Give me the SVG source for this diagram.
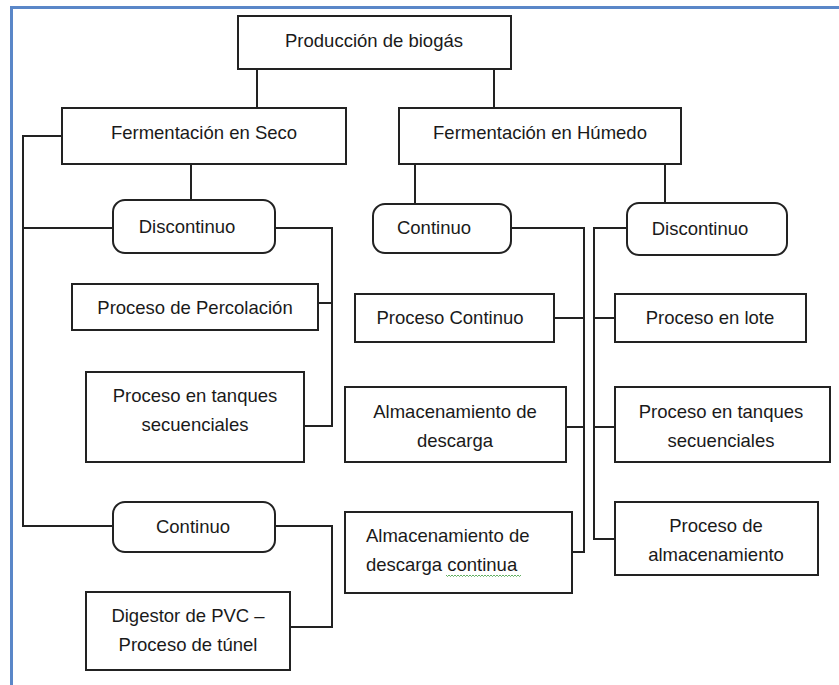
<svg xmlns="http://www.w3.org/2000/svg" width="839" height="685" viewBox="0 0 839 685">
<style>
.box{fill:#fff;stroke:#222;stroke-width:2}
.t{font-family:"Liberation Sans",Arial,sans-serif;font-size:18.5px;fill:#1a1a1a;text-anchor:middle}
.tl{text-anchor:start}
.c{fill:none;stroke:#222;stroke-width:2}
</style>
<rect width="839" height="685" fill="#fff"/>
<path d="M11.5,685 V7.5 H839" fill="none" stroke="#5a87c8" stroke-width="3"/>
<g id="connectors">
<path class="c" d="M257,69 V108 M494,69 V108"/>
<path class="c" d="M62,136 H23 V526 H113 M23,228 H113"/>
<path class="c" d="M191,164 V200"/>
<path class="c" d="M275,228 H332 V426 H304 M318,303 H332"/>
<path class="c" d="M275,526 H332 V627 H290"/>
<path class="c" d="M415,164 V204 M665,164 V203"/>
<path class="c" d="M511,228 H584 V552 H572 M554,318 H584 M566,427 H584"/>
<path class="c" d="M627,228 H594 V539 H615 M594,318 H615 M594,427 H615"/>
</g>
<g id="root"><rect class="box" x="238" y="16" width="273" height="53"/><text class="t" x="374" y="47">Producción de biogás</text></g>
<g id="seco"><rect class="box" x="62" y="108" width="284" height="56"/><text class="t" x="204" y="139">Fermentación en Seco</text></g>
<g id="humedo"><rect class="box" x="399" y="108" width="282" height="56"/><text class="t" x="540" y="139">Fermentación en Húmedo</text></g>
<g id="seco-discontinuo"><rect class="box" x="113" y="200" width="162" height="53" rx="12"/><text class="t" x="187" y="233">Discontinuo</text></g>
<g id="percolacion"><rect class="box" x="72" y="284" width="246" height="46"/><text class="t" x="195" y="314">Proceso de Percolación</text></g>
<g id="seco-tanques"><rect class="box" x="86" y="372" width="218" height="90"/><text class="t" x="195" y="402">Proceso en tanques</text><text class="t" x="195" y="431">secuenciales</text></g>
<g id="seco-continuo"><rect class="box" x="113" y="502" width="162" height="50" rx="12"/><text class="t" x="193" y="533">Continuo</text></g>
<g id="digestor"><rect class="box" x="86" y="592" width="204" height="78"/><text class="t" x="188" y="622">Digestor de PVC –</text><text class="t" x="188" y="651">Proceso de túnel</text></g>
<g id="humedo-continuo"><rect class="box" x="373" y="204" width="138" height="49" rx="12"/><text class="t" x="434" y="234">Continuo</text></g>
<g id="humedo-discontinuo"><rect class="box" x="627" y="203" width="160" height="52" rx="12"/><text class="t" x="700" y="235">Discontinuo</text></g>
<g id="proceso-continuo"><rect class="box" x="355" y="294" width="199" height="48"/><text class="t" x="450" y="324">Proceso Continuo</text></g>
<g id="almac-descarga"><rect class="box" x="345" y="387" width="221" height="75"/><text class="t" x="455" y="418">Almacenamiento de</text><text class="t" x="455" y="447">descarga</text></g>
<g id="almac-continua"><rect class="box" x="345" y="512" width="227" height="81"/><text class="t tl" x="366" y="542">Almacenamiento de</text><text class="t tl" x="366" y="571">descarga continua</text><path d="M446,575 l1.5,1.5 l1.5,-1.5 l1.5,1.5 l1.5,-1.5 l1.5,1.5 l1.5,-1.5 l1.5,1.5 l1.5,-1.5 l1.5,1.5 l1.5,-1.5 l1.5,1.5 l1.5,-1.5 l1.5,1.5 l1.5,-1.5 l1.5,1.5 l1.5,-1.5 l1.5,1.5 l1.5,-1.5 l1.5,1.5 l1.5,-1.5 l1.5,1.5 l1.5,-1.5 l1.5,1.5 l1.5,-1.5 l1.5,1.5 l1.5,-1.5 l1.5,1.5 l1.5,-1.5 l1.5,1.5 l1.5,-1.5 l1.5,1.5 l1.5,-1.5 l1.5,1.5 l1.5,-1.5 l1.5,1.5 l1.5,-1.5 l1.5,1.5 l1.5,-1.5 l1.5,1.5 l1.5,-1.5 l1.5,1.5 l1.5,-1.5 l1.5,1.5 l1.5,-1.5 l1.5,1.5 l1.5,-1.5 l1.5,1.5 l1.5,-1.5 l1.5,1.5 l1.5,-1.5" fill="none" stroke="#3a9a3a" stroke-width="0.8"/></g>
<g id="lote"><rect class="box" x="615" y="294" width="191" height="48"/><text class="t" x="710" y="324">Proceso en lote</text></g>
<g id="humedo-tanques"><rect class="box" x="615" y="387" width="215" height="75"/><text class="t" x="721" y="418">Proceso en tanques</text><text class="t" x="721" y="447">secuenciales</text></g>
<g id="almacenamiento"><rect class="box" x="615" y="502" width="203" height="73"/><text class="t" x="716" y="532">Proceso de</text><text class="t" x="716" y="561">almacenamiento</text></g>
</svg>
